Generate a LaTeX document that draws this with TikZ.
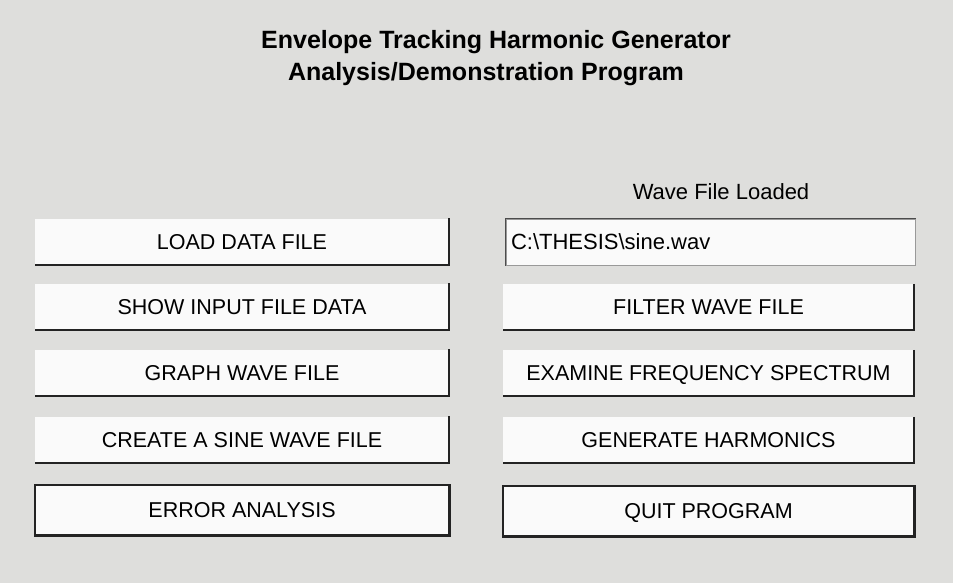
\documentclass[tikz,border=0pt]{standalone}
\usepackage{fontspec}
\setmainfont{Liberation Sans}
\usetikzlibrary{positioning}
\definecolor{paper}{RGB}{222,222,220}
\definecolor{btnface}{RGB}{250,250,250}
\definecolor{edgedark}{RGB}{35,35,35}
\newcommand{\btnfont}{\fontsize{21.5}{24}\selectfont}
\newcommand{\labelfont}{\fontsize{22}{24}\selectfont}
\newcommand{\titlefont}{\bfseries\fontsize{25}{28}\selectfont}

\begin{document}
\begin{tikzpicture}[x=1pt,y=-1pt]
\tikzstyle{button}=[fill=btnface,minimum width=414pt,minimum height=46pt,inner sep=0pt,
  text height=15.5pt,text depth=0pt,font=\btnfont]
\tikzstyle{edge}=[draw=edgedark,line width=2.4pt]
\tikzstyle{field}=[fill=btnface,draw=gray!80,line width=1pt,minimum width=409pt,minimum height=46pt,
  text width=399pt,align=left,inner sep=0pt,font=\labelfont]
\fill[paper] (0,0) rectangle (953,583);
\useasboundingbox (0,0) rectangle (953,583);
% heading
\node[font=\titlefont] (title1) at (496,42) {Envelope Tracking Harmonic Generator};
\node[font=\titlefont] (title2) at (486,74) {Analysis/Demonstration Program};
\node[font=\labelfont] (loaded) at (721,192) {Wave File Loaded};
% left column
\node[button] (load) at (242,241.5) {LOAD DATA FILE};
\node[button] (show) at (242,306.5) {SHOW INPUT FILE DATA};
\node[button] (graph) at (242,372.5) {GRAPH WAVE FILE};
\node[button] (sine) at (242,439.5) {CREATE A SINE WAVE FILE};
\node[button,minimum height=50pt,draw=edgedark,line width=1.4pt] (error) at (242,510) {ERROR ANALYSIS};
% right column
\node[field] (wavepath) at (710.5,242) {C:\textbackslash THESIS\textbackslash sine.wav\\[6pt]};
\node[button,minimum width=411pt] (filter) at (708.5,307) {FILTER WAVE FILE};
\node[button,minimum width=411pt] (spectrum) at (708.5,373) {EXAMINE FREQUENCY SPECTRUM};
\node[button,minimum width=411pt] (harm) at (708.5,440) {GENERATE HARMONICS};
\node[button,minimum width=411pt,minimum height=50pt,draw=edgedark,line width=1.4pt] (quit) at (708.5,511) {QUIT PROGRAM};
% raised edges
\foreach \b in {load,show,graph,sine,error,filter,spectrum,harm,quit}
  \draw[edge] (\b.north east) -- (\b.south east) -- (\b.south west);
\draw[draw=gray!60!black,line width=1.2pt] (wavepath.south west) -- (wavepath.north west) -- (wavepath.north east);
\end{tikzpicture}
\end{document}
